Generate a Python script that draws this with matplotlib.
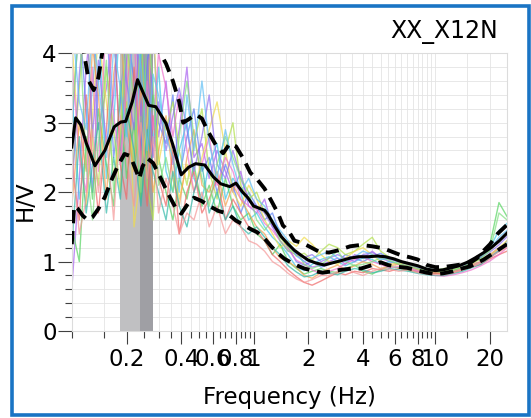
import numpy as np
import matplotlib
matplotlib.use("Agg")
import matplotlib.pyplot as plt
from matplotlib.patches import Rectangle
from matplotlib.ticker import NullFormatter

# ---- data ----
station = "XX_X12N"

# mean H/V curve
f_mean = [0.100, 0.105, 0.112, 0.120, 0.134, 0.152, 0.171, 0.186, 0.198, 0.215, 0.23, 0.25,
          0.265, 0.29, 0.33, 0.36, 0.40, 0.44, 0.48, 0.54, 0.60, 0.66, 0.74, 0.80, 0.87, 0.93,
          1.0, 1.07, 1.15, 1.2, 1.3, 1.42, 1.55, 1.68, 1.85, 2.0, 2.2, 2.45, 2.7, 3.0, 3.4,
          3.8, 4.3, 4.8, 5.3, 5.9, 6.5, 7.2, 8.0, 9.0, 10.0, 11.0, 12.2, 13.5, 15.0, 16.5,
          18.5, 20.5, 22.5, 24.8]
hv_mean = [2.65, 3.07, 2.97, 2.71, 2.38, 2.60, 2.94, 3.01, 3.02, 3.30, 3.62, 3.40,
           3.25, 3.23, 2.99, 2.68, 2.25, 2.36, 2.41, 2.39, 2.22, 2.12, 2.08, 2.13, 2.00, 1.92,
           1.80, 1.77, 1.74, 1.68, 1.52, 1.36, 1.25, 1.16, 1.08, 1.02, 0.98, 0.95, 0.98, 1.01, 1.05,
           1.07, 1.07, 1.08, 1.07, 1.04, 1.00, 0.97, 0.94, 0.89, 0.87, 0.88, 0.91, 0.94, 0.99, 1.05,
           1.13, 1.21, 1.30, 1.41]

# mean + std (upper dashed)
f_upper = [0.100, 0.108, 0.116, 0.124, 0.132, 0.140, 0.148, 0.16, 0.19, 0.23, 0.27, 0.30,
           0.33, 0.36, 0.39, 0.41, 0.44, 0.48, 0.52, 0.56, 0.62, 0.68, 0.74, 0.80, 0.88, 0.96,
           1.05, 1.15, 1.25, 1.36, 1.45, 1.55, 1.68, 1.85, 2.05, 2.3, 2.6, 2.9, 3.4, 3.9, 4.5,
           5.2, 5.8, 6.5, 7.3, 8.0, 9.0, 10.0, 11.0, 12.5, 14.0, 15.5, 17.0, 18.5, 20.0, 22.0, 24.8]
hv_upper = [5.0, 4.6, 4.05, 3.6, 3.47, 3.65, 4.05, 4.6, 5.2, 5.4, 4.7, 4.05,
            3.85, 3.6, 3.3, 3.0, 3.05, 3.12, 3.06, 2.88, 2.68, 2.56, 2.70, 2.66, 2.48, 2.28,
            2.18, 2.05, 1.88, 1.70, 1.52, 1.45, 1.30, 1.27, 1.21, 1.14, 1.13, 1.16, 1.22, 1.24, 1.22,
            1.19, 1.14, 1.09, 1.06, 1.03, 0.95, 0.92, 0.92, 0.94, 0.96, 0.98, 1.05, 1.16, 1.25, 1.40, 1.53]

# mean - std (lower dashed)
f_lower = [0.100, 0.103, 0.108, 0.115, 0.122, 0.130, 0.14, 0.152, 0.165, 0.18, 0.195, 0.21,
           0.225, 0.235, 0.245, 0.26, 0.28, 0.31, 0.34, 0.37, 0.40, 0.44, 0.47, 0.52, 0.58,
           0.64, 0.72, 0.80, 0.88, 0.96, 1.05, 1.15, 1.25, 1.36, 1.48, 1.6, 1.75, 1.9, 2.1, 2.4,
           2.7, 3.0, 3.5, 3.9, 4.5, 5.0, 5.5, 6.0, 7.0, 8.0, 9.0, 10.0, 11.0, 12.5, 14.0, 15.5,
           17.0, 18.5, 20.0, 22.0, 24.8]
hv_lower = [1.25, 1.80, 1.76, 1.66, 1.60, 1.64, 1.76, 1.93, 2.17, 2.39, 2.55, 2.52,
            2.32, 2.19, 2.37, 2.49, 2.42, 2.19, 1.97, 1.79, 1.69, 1.85, 1.92, 1.87, 1.79,
            1.73, 1.69, 1.59, 1.53, 1.47, 1.42, 1.33, 1.22, 1.12, 1.04, 0.99, 0.94, 0.90, 0.87, 0.84,
            0.86, 0.88, 0.90, 0.90, 0.95, 0.99, 0.95, 0.93, 0.91, 0.87, 0.84, 0.82, 0.83, 0.86, 0.90, 0.93,
            0.98, 1.03, 1.09, 1.16, 1.25]

# individual time windows
f_win = [0.10, 0.11, 0.12, 0.13, 0.14, 0.155, 0.17, 0.185, 0.20, 0.22, 0.24, 0.26, 0.28, 0.30,
         0.33, 0.36, 0.39, 0.43, 0.47, 0.52, 0.57, 0.63, 0.70, 0.77, 0.85, 0.94, 1.04,
         1.15, 1.27, 1.4, 1.55, 1.72, 1.9, 2.1, 2.35,
         2.6, 2.9, 3.2, 3.6, 4.0, 4.5, 5.0, 5.6, 6.3, 7.1, 8.0, 9.0, 10.0,
         11.2, 12.6, 14.1, 15.8, 17.8, 20.0, 22.4, 24.8]
windows = [
    [0.6, 2.2, 3.8, 4.6, 2.9, 3.5, 4.4, 2.6, 3.9, 4.8, 3.1, 4.2, 3.4, 2.8,
     3.6, 2.4, 2.9, 3.8, 2.5, 2.7, 2.2, 2.6, 2.3, 2.0, 2.3, 1.8, 1.7,
     1.9, 1.5, 1.3, 1.15, 1.1, 1.0, 0.92, 0.95,
     1.0, 1.05, 0.96, 1.1, 1.05, 1.15, 1.05, 1.0, 0.96, 0.94, 0.9, 0.86, 0.84,
     0.86, 0.88, 0.91, 0.96, 1.0, 1.1, 1.2, 1.25],
    [2.9, 4.5, 3.2, 2.0, 3.7, 4.6, 2.5, 3.3, 4.4, 3.6, 2.6, 3.9, 4.3, 3.0,
     2.7, 3.4, 2.2, 2.8, 3.2, 2.3, 2.5, 2.0, 2.4, 2.1, 1.7, 2.0, 1.8,
     1.6, 1.7, 1.4, 1.2, 1.0, 0.95, 1.0, 0.92,
     0.96, 1.0, 1.1, 1.05, 1.0, 1.07, 1.12, 1.05, 1.0, 0.98, 0.92, 0.88, 0.86,
     0.84, 0.86, 0.89, 0.93, 0.98, 1.06, 1.15, 1.3],
    [3.4, 1.9, 2.6, 3.5, 4.5, 2.2, 3.0, 4.6, 2.9, 2.4, 4.1, 3.3, 2.7, 3.8,
     2.3, 2.0, 2.6, 3.0, 2.2, 1.9, 2.4, 2.7, 1.9, 2.2, 2.0, 1.6, 1.7,
     1.5, 1.35, 1.25, 1.1, 0.92, 0.87, 0.96, 1.03,
     1.07, 1.0, 0.94, 1.0, 1.05, 1.03, 0.96, 1.0, 0.98, 0.92, 0.88, 0.86, 0.85,
     0.86, 0.9, 0.94, 1.0, 1.06, 1.2, 1.45, 1.55],
    [1.5, 1.0, 2.8, 1.9, 3.2, 2.4, 1.8, 3.6, 2.2, 3.0, 1.9, 2.6, 3.4, 2.5,
     2.0, 1.6, 2.2, 1.9, 2.4, 1.8, 2.1, 1.7, 2.2, 1.8, 1.6, 1.7, 1.4,
     1.3, 1.1, 1.25, 1.0, 0.9, 0.82, 0.86, 0.9,
     0.86, 0.84, 0.9, 0.95, 0.86, 0.82, 0.88, 0.93, 0.91, 0.87, 0.85, 0.84, 0.83,
     0.85, 0.88, 0.92, 0.98, 1.06, 1.25, 1.85, 1.65],
    [2.2, 3.5, 4.8, 2.7, 2.1, 3.8, 2.9, 2.0, 3.3, 2.4, 4.5, 2.1, 1.6, 3.2,
     2.9, 3.3, 2.6, 2.1, 2.7, 3.2, 2.3, 1.9, 2.6, 3.0, 2.1, 1.9, 2.0,
     1.7, 1.55, 1.35, 1.2, 1.08, 1.12, 1.02, 1.15,
     1.25, 1.2, 1.1, 1.15, 1.25, 1.35, 1.15, 1.06, 1.0, 0.96, 0.93, 0.9, 0.88,
     0.9, 0.92, 0.96, 1.01, 1.08, 1.16, 1.3, 1.4],
    [4.2, 2.6, 1.8, 3.1, 4.3, 3.3, 2.2, 2.8, 4.7, 1.5, 2.3, 3.0, 4.8, 2.4,
     3.0, 2.5, 1.9, 2.4, 2.0, 2.5, 2.9, 3.3, 2.6, 2.0, 1.8, 2.1, 1.9,
     1.6, 1.4, 1.2, 1.3, 1.22, 1.35, 1.25, 1.1,
     1.0, 0.96, 1.05, 1.15, 1.2, 1.1, 1.0, 0.96, 0.98, 0.96, 0.9, 0.86, 0.86,
     0.86, 0.89, 0.93, 0.96, 1.04, 1.1, 1.2, 1.3],
    [1.8, 3.0, 2.3, 4.1, 3.4, 1.9, 3.7, 4.4, 3.0, 2.3, 3.5, 2.8, 2.0, 2.6,
     3.1, 2.2, 1.8, 2.5, 2.9, 2.1, 2.0, 2.3, 1.8, 2.1, 1.9, 1.7, 1.5,
     1.4, 1.2, 1.05, 1.0, 0.92, 0.8, 0.76, 0.84,
     0.9, 0.95, 0.88, 0.94, 1.0, 0.96, 0.9, 0.94, 0.96, 0.93, 0.88, 0.86, 0.84,
     0.83, 0.86, 0.9, 0.94, 1.0, 1.08, 1.18, 1.25],
    [2.4, 1.6, 3.4, 2.5, 1.7, 2.9, 4.5, 2.4, 1.9, 3.8, 2.6, 1.8, 3.1, 2.2,
     1.8, 2.6, 1.4, 2.0, 2.3, 1.7, 1.9, 2.2, 1.6, 1.9, 1.7, 1.5, 1.45,
     1.3, 1.1, 1.0, 0.88, 0.78, 0.7, 0.66, 0.72,
     0.78, 0.84, 0.81, 0.86, 0.84, 0.9, 0.88, 0.86, 0.9, 0.89, 0.86, 0.84, 0.83,
     0.82, 0.84, 0.88, 0.92, 0.96, 1.04, 1.1, 1.15],
    [3.9, 2.5, 2.0, 3.8, 2.3, 4.6, 3.1, 2.4, 3.5, 4.3, 2.3, 3.6, 2.9, 4.0,
     3.5, 2.8, 3.4, 2.6, 2.0, 2.4, 2.8, 2.1, 2.5, 2.3, 1.9, 1.8, 1.75,
     1.55, 1.45, 1.3, 1.18, 1.02, 0.96, 0.88, 0.82,
     0.86, 0.9, 0.97, 1.03, 1.07, 1.0, 0.96, 0.91, 0.93, 0.91, 0.86, 0.82, 0.8,
     0.79, 0.81, 0.84, 0.88, 0.94, 1.01, 1.1, 1.2],
    [2.0, 3.7, 4.7, 2.8, 3.9, 2.7, 3.4, 4.9, 3.6, 2.9, 4.6, 3.9, 2.5, 3.3,
     2.6, 3.1, 3.5, 2.9, 2.3, 2.8, 3.4, 2.4, 2.2, 2.6, 2.2, 1.9, 1.8,
     1.7, 1.5, 1.4, 1.25, 1.12, 1.06, 1.1, 1.0,
     1.05, 1.1, 1.05, 1.0, 1.1, 1.13, 1.07, 1.03, 1.0, 0.96, 0.91, 0.89, 0.88,
     0.88, 0.91, 0.94, 0.99, 1.06, 1.14, 1.24, 1.36],
    [1.2, 2.8, 1.7, 2.4, 3.0, 1.7, 2.5, 1.9, 3.2, 2.6, 1.8, 2.9, 2.3, 2.0,
     1.6, 2.3, 1.8, 1.5, 2.0, 2.4, 1.7, 2.0, 1.6, 1.8, 1.5, 1.4, 1.5,
     1.35, 1.2, 1.1, 0.94, 0.85, 0.78, 0.8, 0.86,
     0.84, 0.81, 0.86, 0.9, 0.88, 0.84, 0.86, 0.9, 0.88, 0.86, 0.83, 0.81, 0.8,
     0.8, 0.83, 0.86, 0.91, 0.96, 1.06, 1.16, 1.26],
    [3.1, 4.4, 2.4, 1.6, 2.7, 3.9, 2.0, 2.7, 4.2, 3.3, 2.0, 4.4, 3.6, 2.1,
     2.5, 2.0, 2.8, 3.6, 2.8, 2.2, 1.8, 2.4, 2.8, 2.5, 2.2, 2.0, 1.6,
     1.45, 1.6, 1.3, 1.15, 1.16, 0.96, 0.9, 0.95,
     1.05, 1.15, 1.0, 0.94, 0.96, 1.0, 1.05, 1.02, 0.96, 0.94, 0.9, 0.87, 0.86,
     0.86, 0.88, 0.92, 0.98, 1.04, 1.16, 1.7, 1.6],
    [2.6, 1.4, 1.9, 2.9, 2.0, 2.8, 1.6, 3.1, 2.5, 1.8, 3.0, 2.2, 2.8, 1.7,
     2.2, 1.8, 1.4, 1.7, 1.6, 2.0, 1.5, 1.8, 1.4, 1.6, 1.5, 1.3, 1.25,
     1.15, 1.0, 0.93, 0.83, 0.75, 0.7, 0.74, 0.8,
     0.8, 0.86, 0.9, 0.84, 0.8, 0.86, 0.9, 0.89, 0.86, 0.88, 0.84, 0.82, 0.81,
     0.81, 0.84, 0.88, 0.92, 0.98, 1.06, 1.14, 1.2],
    [4.5, 3.3, 2.9, 4.4, 3.6, 2.5, 4.1, 3.5, 2.8, 4.6, 3.8, 2.6, 3.7, 3.4,
     2.8, 2.5, 2.0, 3.4, 2.6, 3.6, 2.7, 2.2, 2.9, 2.4, 2.0, 2.2, 1.9,
     1.8, 1.6, 1.45, 1.3, 1.08, 1.0, 1.05, 1.1,
     1.15, 1.05, 1.0, 1.07, 1.15, 1.1, 1.03, 1.05, 1.0, 0.97, 0.94, 0.9, 0.88,
     0.89, 0.91, 0.96, 1.0, 1.08, 1.18, 1.35, 1.45],
]
win_colors = ['#a860f0', '#5f80f5', '#3fc8e8', '#55d460', '#b0e04a', '#f0dc4a', '#f5a050',
              '#f06666', '#f070cc', '#9070f0', '#30b8a8', '#80e080', '#f59898', '#60c0f5']

# peak frequency and its spread (grey band)
f0 = 0.236
f0_low = 0.185
f0_high = 0.281

xtick_vals = [0.2, 0.4, 0.6, 0.8, 1, 2, 4, 6, 8, 10, 20]
xtick_labels = ['0.2', '0.4', '0.6', '0.8', '1', '2', '4', '6', '8', '10', '20']

# ---- figure ----
plt.rcParams['font.family'] = ['DejaVu Sans']
fig = plt.figure(figsize=(5.31, 4.18), dpi=100)
fig.patch.set_facecolor('white')
ax = fig.add_axes([71.8 / 531, 1 - 331 / 418, (507 - 71.8) / 531, (331 - 53.3) / 418])

ax.axvspan(f0_low, f0_high, color='#c0c0c2', lw=0, zorder=1)
ax.axvspan(f0, f0_high, color='#9f9fa4', lw=0, zorder=1)

for w, c in zip(windows, win_colors):
    ax.plot(f_win, w, color=c, lw=1.0, alpha=0.7, zorder=2)

ax.plot(f_mean, hv_mean, color='black', lw=2.2, zorder=4)
ax.plot(f_upper, hv_upper, color='black', lw=2.8, dashes=(3.4, 2.0), zorder=4)
ax.plot(f_lower, hv_lower, color='black', lw=2.8, dashes=(3.4, 2.0), zorder=4)

ax.set_xscale('log')
ax.set_xlim(0.1, 24.8)
ax.set_ylim(0, 4)

minor_x = [v / 100 for v in range(10, 100, 5)] + [v / 10 for v in range(10, 100, 5)] + [15, 25]
minor_x = [v for v in minor_x if v not in xtick_vals and 0.1 <= v <= 24.8]
ax.set_xticks(xtick_vals)
ax.set_xticklabels(xtick_labels)
ax.set_xticks(minor_x, minor=True)
ax.xaxis.set_minor_formatter(NullFormatter())
ax.set_yticks([0, 1, 2, 3, 4])
ax.set_yticks(np.arange(0, 4.01, 0.2), minor=True)
ax.yaxis.set_minor_formatter(NullFormatter())

ax.grid(True, which='both', color='#e4e4e4', lw=0.6, zorder=0)
ax.set_axisbelow(True)

ax.tick_params(axis='x', which='major', length=9, width=0.8, color='#404040',
               labelsize=16.5, pad=3)
ax.tick_params(axis='x', which='minor', length=5, width=0.8, color='#404040')
ax.tick_params(axis='y', which='major', length=10, width=0.8, color='#404040',
               labelsize=16.5, pad=1)
ax.tick_params(axis='y', which='minor', length=5, width=0.8, color='#404040')

for s in ax.spines.values():
    s.set_color('#dcdcdc')
    s.set_linewidth(0.8)

ax.set_xlabel('Frequency (Hz)', fontsize=16.5)
ax.set_ylabel('H/V', fontsize=16.5)
ax.xaxis.set_label_coords(0.5, -0.238)
ax.yaxis.set_label_coords(-0.108, 0.468)
ax.xaxis.label.set_verticalalignment('center')
ax.yaxis.label.set_verticalalignment('center')

fig.text(498 / 531, 1 - 32 / 418, station, ha='right', va='center', fontsize=17)

fig.add_artist(Rectangle((11.5 / 531, 1 - 415 / 418), (528.5 - 11.5) / 531, (415 - 5.5) / 418,
                         transform=fig.transFigure, fill=False, edgecolor='#1a74c4', lw=2.6))

fig.savefig('out.png', dpi=100)
